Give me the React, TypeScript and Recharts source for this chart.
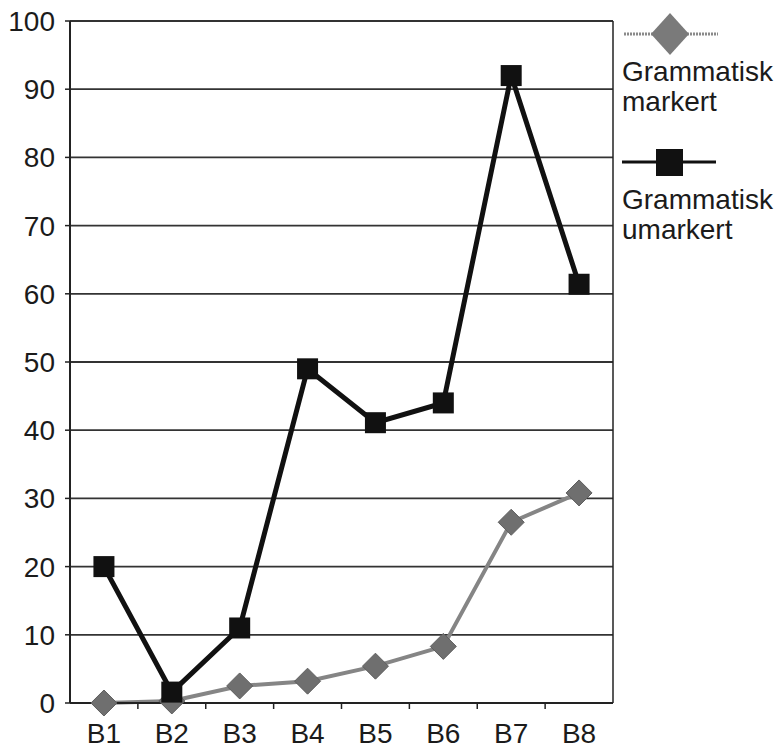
import React from 'react';
import { LineChart, Line, XAxis, YAxis, CartesianGrid } from 'recharts';

const categories = ['B1', 'B2', 'B3', 'B4', 'B5', 'B6', 'B7', 'B8'];
const markert = [0, 0.3, 2.5, 3.2, 5.4, 8.3, 26.5, 30.8];
const umarkert = [20, 1.6, 11, 49, 41.1, 44, 92, 61.4];
const yTicks = [0, 10, 20, 30, 40, 50, 60, 70, 80, 90, 100];

const data = categories.map((name, i) => ({ name, markert: markert[i], umarkert: umarkert[i] }));

const FONT = '"Liberation Sans", Arial, sans-serif';
const TEXT = '#1b1b1b';
const DIAMOND_R = 13;
const SQUARE = 21;

const Diamond = ({ cx, cy }: any) => {
  if (cx == null || cy == null) return null;
  const r = DIAMOND_R;
  return (
    <polygon
      points={`${cx},${cy - r} ${cx + r},${cy} ${cx},${cy + r} ${cx - r},${cy}`}
      fill="#6f6f6f"
      stroke="#5e5e5e"
      strokeWidth={1}
    />
  );
};

const Square = ({ cx, cy }: any) => {
  if (cx == null || cy == null) return null;
  return <rect x={cx - SQUARE / 2} y={cy - SQUARE / 2} width={SQUARE} height={SQUARE} fill="#111" />;
};

// category label in the middle of the band, tick mark on the band's left edge
const XTick = (props: any) => {
  const { x, y, payload, index, width } = props;
  const band = (width || 543) / categories.length;
  return (
    <g>
      {index > 0 && (
        <line x1={x - band / 2} x2={x - band / 2} y1={y - 20} y2={y - 14} stroke="#222" strokeWidth={1.5} />
      )}
      <text x={x} y={y} dy="0.71em" textAnchor="middle" fill={TEXT} fontSize={28} fontFamily={FONT}>
        {payload.value}
      </text>
    </g>
  );
};

const LegendBox = () => (
  <div
    style={{
      position: 'absolute',
      left: 622,
      top: 11,
      fontFamily: FONT,
      fontSize: 28,
      lineHeight: '30px',
      color: TEXT,
    }}
  >
    <svg width={100} height={46} style={{ display: 'block' }}>
      <line x1={2} x2={96} y1={23} y2={23} stroke="#8a8a8a" strokeWidth={3} strokeDasharray="2 1" />
      <polygon points="48,2 67,23 48,44 29,23" fill="#7a7a7a" />
    </svg>
    <div>Grammatisk</div>
    <div>markert</div>
    <svg width={100} height={46} style={{ display: 'block', marginTop: 22 }}>
      <line x1={0} x2={94} y1={23} y2={23} stroke="#111" strokeWidth={3} />
      <rect x={34} y={10} width={27} height={27} fill="#111" />
    </svg>
    <div>Grammatisk</div>
    <div>umarkert</div>
  </div>
);

export default function App() {
  return (
    <div style={{ position: 'absolute', left: 0, top: 0, width: 777, height: 752, background: '#fff' }}>
      <LineChart width={777} height={752} data={data} margin={{ top: 21, right: 163, bottom: 4, left: 0 }}>
        <CartesianGrid vertical={false} stroke="#333" strokeWidth={1.8} />
        <XAxis
          dataKey="name"
          scale="band"
          height={45}
          axisLine={{ stroke: '#222', strokeWidth: 2 }}
          tickLine={false}
          tickSize={0}
          tickMargin={20}
          tick={<XTick />}
          interval={0}
        />
        <YAxis
          domain={[0, 100]}
          ticks={yTicks}
          width={70}
          axisLine={{ stroke: '#222', strokeWidth: 2 }}
          tickLine={{ stroke: '#222', strokeWidth: 1.5 }}
          tickSize={5}
          tickMargin={10}
          tick={{ fill: TEXT, fontSize: 28, fontFamily: FONT }}
        />
        <YAxis
          yAxisId="frame"
          orientation="right"
          width={1}
          tick={false}
          tickLine={false}
          axisLine={{ stroke: '#222', strokeWidth: 1.5 }}
        />
        <Line
          dataKey="markert"
          type="linear"
          stroke="#858585"
          strokeWidth={4}
          dot={<Diamond />}
          activeDot={false}
          isAnimationActive={false}
        />
        <Line
          dataKey="umarkert"
          type="linear"
          stroke="#111"
          strokeWidth={5}
          dot={<Square />}
          activeDot={false}
          isAnimationActive={false}
        />
      </LineChart>
      <LegendBox />
    </div>
  );
}
